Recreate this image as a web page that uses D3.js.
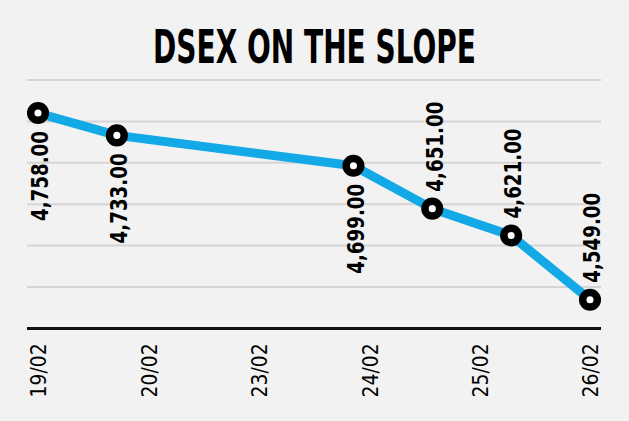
<!DOCTYPE html>
<html>
<head>
<meta charset="utf-8">
<script src="https://cdn.jsdelivr.net/npm/d3@7"></script>
<style>
  html, body { margin: 0; padding: 0; background: #f2f2f2; }
  svg { display: block; }
</style>
</head>
<body>
<div id="chart"></div>
<script>
/***** Data ***************************/
var dates = ["19/02", "20/02", "23/02", "24/02", "25/02", "26/02"];
var closes = [4758, 4733, 4699, 4651, 4621, 4549];
var valueLabels = ["4,758.00", "4,733.00", "4,699.00", "4,651.00", "4,621.00", "4,549.00"];
var labelSide = ["below", "below", "below", "above", "above", "above"];

var width = 629, height = 421;
var parseDay = d3.timeParse("%d/%m");

var svg = d3.select("#chart")
            .append("svg")
            .attr("width", width)
            .attr("height", height);

svg.append("rect")
   .attr("width", width)
   .attr("height", height)
   .attr("fill", "#f2f2f2");

/***** Title, squeezed to a condensed look ******/
var title = svg.append("text")
   .attr("x", 0)
   .attr("y", 0)
   .attr("text-anchor", "middle")
   .style("font-family", "DejaVu Sans Condensed")
   .style("font-weight", "bold")
   .style("font-size", "47px")
   .style("fill", "#000")
   .text("DSEX ON THE SLOPE");

var titleScale = 323 / title.node().getComputedTextLength();
title.attr("transform", "translate(" + (width / 2) + ",63) scale(" + titleScale + ",1)");

/***** Scales: points on real dates, tick labels evenly spaced ******/
var x = d3.scaleTime()
          .domain(d3.extent(dates, parseDay))
          .range([38, 590]);

var xLabel = d3.scalePoint()
               .domain(dates)
               .range([38, 590]);

var y = d3.scaleLinear()
          .domain([4517, 4795])
          .range([328.4, 80]);

/***** Gridlines ******/
var gridStep = (y.domain()[1] - y.domain()[0]) / 6;
var gridVals = d3.range(6).map(function(i) { return y.domain()[1] - i * gridStep; });

svg.append("g")
   .attr("class", "grid")
   .selectAll("line")
   .data(gridVals)
   .enter()
   .append("line")
   .attr("x1", 27)
   .attr("x2", 601)
   .attr("y1", function(d) { return y(d); })
   .attr("y2", function(d) { return y(d); })
   .attr("stroke", "#d5d5d5")
   .attr("stroke-width", 2);

/***** X axis ******/
var xAxis = svg.append("g")
   .attr("class", "axis axis--x")
   .attr("transform", "translate(0," + y(y.domain()[0]) + ")")
   .call(d3.axisBottom(xLabel).tickSize(0).tickPadding(0));

xAxis.select(".domain")
     .attr("d", "M27,0H601")
     .attr("stroke", "#111")
     .attr("stroke-width", 3);

xAxis.selectAll(".tick text")
     .attr("transform", "rotate(-90)")
     .attr("x", -15)
     .attr("y", 0)
     .attr("dy", "0.36em")
     .attr("text-anchor", "end")
     .attr("textLength", 54)
     .attr("lengthAdjust", "spacingAndGlyphs")
     .style("font-family", "DejaVu Sans Condensed")
     .style("font-size", "22px")
     .style("fill", "#000");

/***** Line ******/
var series = dates.map(function(d, i) { return { date: parseDay(d), value: closes[i], label: valueLabels[i], side: labelSide[i] }; });

var line = d3.line()
             .x(function(d) { return x(d.date); })
             .y(function(d) { return y(d.value); });

svg.append("path")
   .datum(series)
   .attr("d", line)
   .attr("fill", "none")
   .attr("stroke", "#12a9e6")
   .attr("stroke-width", 9)
   .attr("stroke-linejoin", "round");

/***** Markers ******/
svg.selectAll(".dot")
   .data(series)
   .enter()
   .append("circle")
   .attr("class", "dot")
   .attr("cx", function(d) { return x(d.date); })
   .attr("cy", function(d) { return y(d.value); })
   .attr("r", 7.3)
   .attr("fill", "#fff")
   .attr("stroke", "#000")
   .attr("stroke-width", 7.5);

/***** Value labels, rotated ******/
svg.selectAll(".value-label")
   .data(series)
   .enter()
   .append("text")
   .attr("class", "value-label")
   .attr("transform", function(d) {
       var py = y(d.value);
       var ly = d.side == "below" ? py + 18 : py - 17;
       return "translate(" + (x(d.date) + 2) + "," + ly + ") rotate(-90)";
   })
   .attr("dy", "0.36em")
   .attr("text-anchor", function(d) { return d.side == "below" ? "end" : "start"; })
   .attr("textLength", 90)
   .attr("lengthAdjust", "spacingAndGlyphs")
   .style("font-family", "DejaVu Sans Condensed")
   .style("font-weight", "bold")
   .style("font-size", "23px")
   .style("fill", "#000")
   .text(function(d) { return d.label; });
</script>
</body>
</html>
